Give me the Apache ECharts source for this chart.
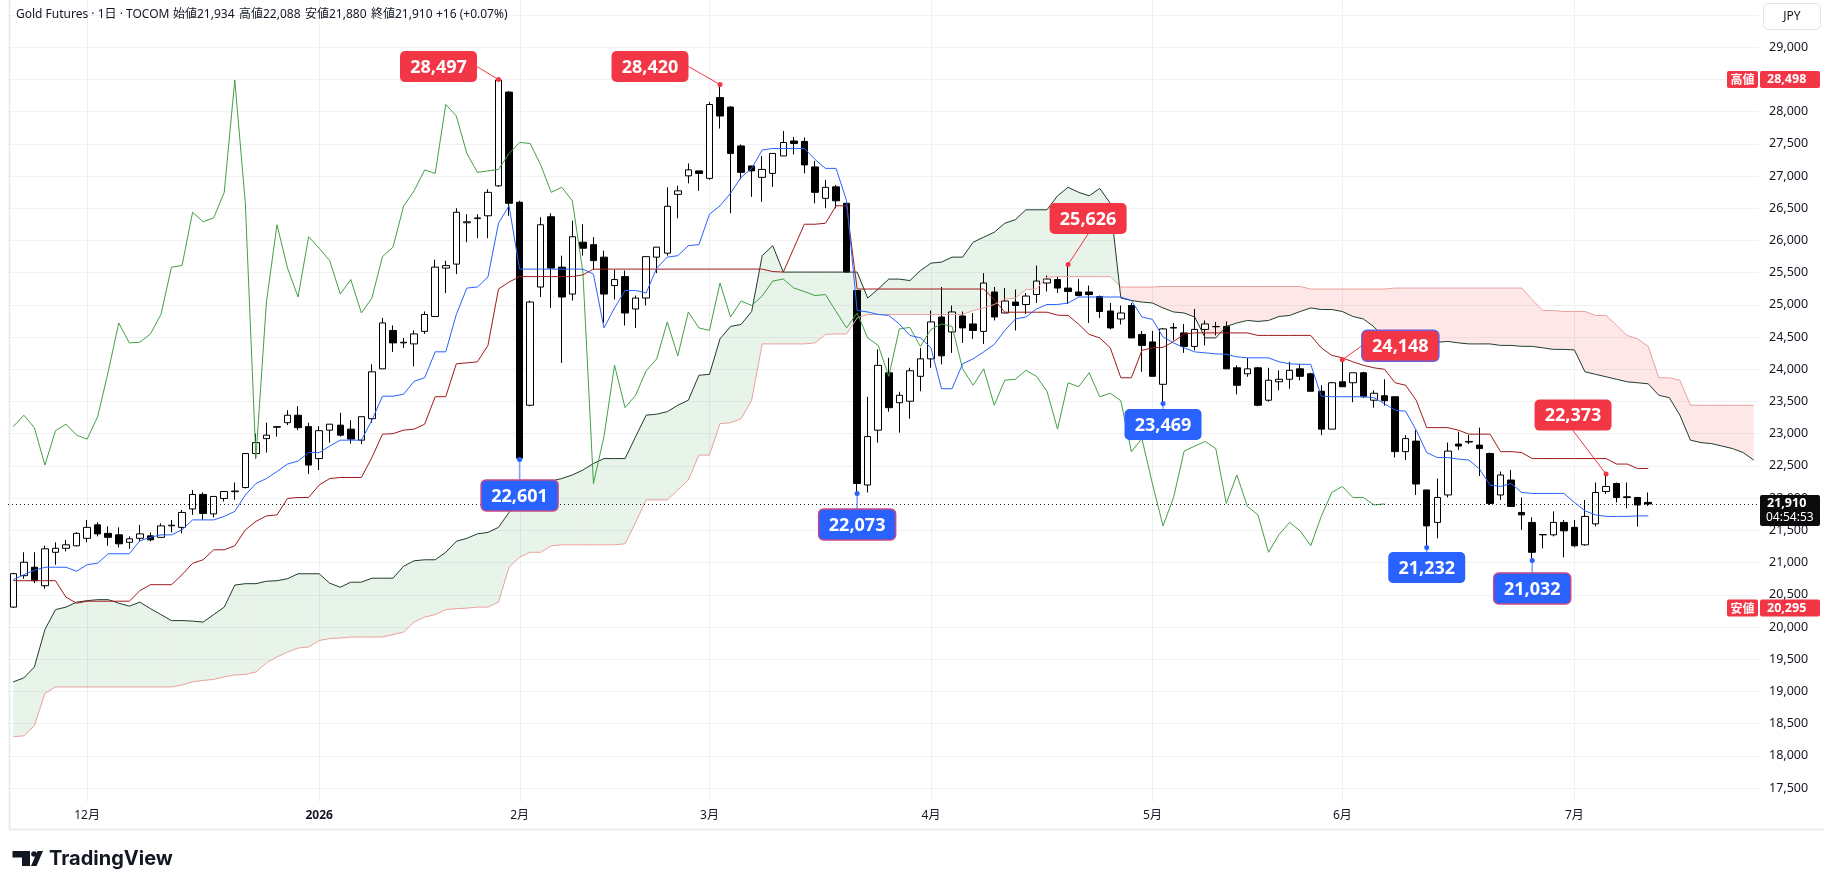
<!DOCTYPE html>
<html><head><meta charset="utf-8">
<script src="https://cdn.jsdelivr.net/npm/echarts@6/dist/echarts.min.js"></script>
<style>html,body{margin:0;padding:0;background:#fff;}#c{width:1824px;height:890px;}</style>
</head><body><div id="c"></div>
<script>
// ---------- DATA ----------
const dates = ['2025-11-19','2025-11-20','2025-11-21','2025-11-25','2025-11-26','2025-11-27','2025-11-28',
'2025-12-01','2025-12-02','2025-12-03','2025-12-04','2025-12-05','2025-12-08','2025-12-09','2025-12-10','2025-12-11','2025-12-12','2025-12-15','2025-12-16','2025-12-17','2025-12-18','2025-12-19','2025-12-22','2025-12-23','2025-12-24','2025-12-25','2025-12-26','2025-12-29','2025-12-30',
'2026-01-05','2026-01-06','2026-01-07','2026-01-08','2026-01-09','2026-01-13','2026-01-14','2026-01-15','2026-01-16','2026-01-19','2026-01-20','2026-01-21','2026-01-22','2026-01-23','2026-01-26','2026-01-27','2026-01-28','2026-01-29','2026-01-30',
'2026-02-02','2026-02-03','2026-02-04','2026-02-05','2026-02-06','2026-02-09','2026-02-10','2026-02-12','2026-02-13','2026-02-16','2026-02-17','2026-02-18','2026-02-19','2026-02-20','2026-02-24','2026-02-25','2026-02-26','2026-02-27',
'2026-03-02','2026-03-03','2026-03-04','2026-03-05','2026-03-06','2026-03-09','2026-03-10','2026-03-11','2026-03-12','2026-03-13','2026-03-16','2026-03-17','2026-03-18','2026-03-19','2026-03-23','2026-03-24','2026-03-25','2026-03-26','2026-03-27','2026-03-30','2026-03-31',
'2026-04-01','2026-04-02','2026-04-03','2026-04-06','2026-04-07','2026-04-08','2026-04-09','2026-04-10','2026-04-13','2026-04-14','2026-04-15','2026-04-16','2026-04-17','2026-04-20','2026-04-21','2026-04-22','2026-04-23','2026-04-24','2026-04-27','2026-04-28','2026-04-30',
'2026-05-01','2026-05-07','2026-05-08','2026-05-11','2026-05-12','2026-05-13','2026-05-14','2026-05-15','2026-05-18','2026-05-19','2026-05-20','2026-05-21','2026-05-22','2026-05-25','2026-05-26','2026-05-27','2026-05-28','2026-05-29',
'2026-06-01','2026-06-02','2026-06-03','2026-06-04','2026-06-05','2026-06-08','2026-06-09','2026-06-10','2026-06-11','2026-06-12','2026-06-15','2026-06-16','2026-06-17','2026-06-18','2026-06-19','2026-06-22','2026-06-23','2026-06-24','2026-06-25','2026-06-26','2026-06-29','2026-06-30',
'2026-07-01','2026-07-02','2026-07-03','2026-07-06','2026-07-07','2026-07-08','2026-07-09','2026-07-10',
'2026-07-13','2026-07-14','2026-07-15','2026-07-16','2026-07-17','2026-07-21','2026-07-22','2026-07-23','2026-07-24','2026-07-27'];

const opens = [20308,20796,20927,20640,21159,21221,21260,21376,21585,21453,
21430,21314,21376,21414,21391,21570,21546,21832,22057,21755,
21995,22100,22165,22692,22924,23100,23171,23287,23110,22614,
23055,23133,23071,22900,23233,24007,24603,24410,24394,24588,
24820,25571,25633,26274,26340,26383,26848,28303,26593,23442,
25277,26368,25586,25168,25973,25935,25741,25300,25439,24936,
25106,25741,25803,26716,27003,27080,26964,28218,28071,27467,
27157,26980,27041,27312,27544,27537,27142,26654,26832,26577,
25222,22204,23055,23945,23481,23504,23891,24162,24812,24580,
24828,24704,24588,25200,24874,25044,25006,25161,25339,25393,
25261,25200,25200,25130,24905,24781,24990,24541,24425,23767,
24640,24565,24355,24619,24660,24665,24023,23930,24023,23520,
23806,23845,24007,23930,23659,23071,23806,23791,23946,23520,
23589,23574,22722,22885,22127,21623,22049,22839,22870,22823,
22692,22049,22281,21778,21623,21430,21430,21623,21546,21275,
21600,22103,22227,22020,22010,21934];
const highs = [20840,21160,21160,21260,21314,21352,21470,21662,21623,21561,
21546,21406,21585,21468,21608,21662,21817,22126,22088,22026,
22103,22243,22700,23001,23171,23110,23365,23427,23171,23117,
23148,23326,23210,23264,24077,24797,24681,24487,24603,24898,
25702,25687,26500,26407,26407,26794,28497,28318,26616,25068,
26360,26422,25764,26306,26252,26051,25842,25548,25532,25145,
25749,25896,26825,26848,27196,27080,28148,28420,28086,27490,
27157,27312,27351,27699,27606,27599,27235,26941,26863,26580,
25230,23574,24309,24178,23651,24023,24332,24913,25277,24990,
24897,24874,25493,25277,25261,25238,25184,25610,25455,25432,
25626,25400,25300,25145,25029,24990,25029,24595,24595,24642,
24720,24704,24936,24758,24735,24743,24061,24178,24038,24023,
23984,24116,24085,23946,23752,23806,24148,23946,23961,23674,
23845,23574,22978,23055,22127,22304,22862,23032,22978,23094,
22707,22413,22436,22010,21701,21440,21794,21662,21662,21971,
22243,22373,22243,22243,22020,22088];
const lows = [20295,20749,20679,20594,20965,21174,21250,21314,21406,21260,
21236,21213,21329,21329,21391,21468,21453,21740,21662,21701,
21948,21972,22150,22614,22707,22955,23133,23055,22374,22436,
22862,22955,22846,22839,23171,24007,24270,24332,24046,24549,
24820,25184,25478,25973,26035,26035,26832,26383,22601,23426,
25122,24952,24100,25068,25764,25548,24720,25083,24681,24642,
24990,25493,25764,26345,26887,26770,26941,27738,26422,26949,
26678,26600,26832,27312,27335,27041,26577,26500,26500,25500,
22073,22088,22862,23342,23017,23233,23659,24023,24077,24255,
24410,24472,24394,24758,24874,24603,24859,25029,25207,25184,
25013,25130,24720,24797,24619,24696,24487,23961,23891,23469,
24448,24255,24294,24371,24526,24007,23612,23884,23426,23497,
23674,23698,23829,23659,22978,23071,23729,23489,23559,23404,
23435,22630,22591,22049,21232,21376,22010,22746,22839,22343,
21894,21972,21871,21507,21032,21220,21406,21081,21236,21260,
21562,22065,21933,21840,21560,21880];
const closes = [20827,21005,20718,21213,21221,21275,21453,21546,21445,21391,
21291,21368,21445,21352,21569,21580,21778,22057,21763,22026,
22103,22110,22692,22862,22978,23110,23287,23094,22513,23047,
23148,22978,22916,23264,23961,24720,24410,24420,24549,24851,
25586,25610,26438,26290,26350,26747,28490,26577,22620,25044,
26244,25571,25122,26058,25880,25687,25168,25393,24874,25106,
25749,25896,26531,26770,27096,27040,28110,27932,27351,27057,
27080,27103,27351,27521,27506,27173,26747,26825,26616,25509,
22227,22955,24061,23404,23597,23977,24162,24735,24209,24890,
24642,24603,25339,24812,25060,24990,25137,25370,25401,25261,
25207,25145,25160,24897,24642,24874,24487,24371,23891,24627,
24650,24355,24619,24704,24665,24007,23752,24007,23442,23830,
23845,23984,23891,23659,23071,23791,23729,23946,23574,23628,
23512,22722,22924,22219,21569,22010,22730,22808,22880,22769,
21918,22359,21871,21740,21159,21435,21623,21492,21260,21716,
22088,22181,22010,22010,21894,21910];

// Ichimoku lines
const tenkan = [20733,20811,20880,20927,20927,20927,20865,20966,20989,21136,21136,21136,21337,21391,21430,21430,21508,21662,21662,21662,21716,21794,
22049,22227,22304,22413,22529,22575,22707,22707,22808,22900,22900,22900,23210,23582,23582,23613,23814,23868,24271,24271,24851,25261,
25277,25432,26268,26538,25555,25555,25555,25555,25555,25555,25555,25478,24642,24952,25223,25223,25184,25571,25741,25764,25919,25935,
26407,26538,26732,26980,27119,27405,27428,27428,27428,27428,27258,27119,27119,26616,24913,24890,24851,24836,24704,24526,24487,24333,
23698,23698,24085,24162,24271,24387,24603,24781,24812,24936,25006,25006,25029,25122,25122,25122,25122,25122,25068,24812,24774,
24503,24410,24333,24271,24255,24240,24232,24193,24178,24178,24178,24116,24085,24077,24077,23582,23574,23574,23574,23574,23559,23466,
23365,23349,23055,22707,22630,22630,22606,22591,22452,22204,22181,22227,22088,22073,22073,22073,22073,21933,21802,21740,21716,21716,21716,21724,21724];
const kijun = [20718,20718,20718,20718,20718,20462,20369,20400,20400,20400,20400,20400,20563,20656,20656,20656,20811,20989,21043,21198,21198,21260,
21507,21639,21724,21740,21995,22010,22010,22204,22304,22320,22320,22320,22630,22993,23001,23055,23071,23148,23574,23574,24085,24100,
24116,24371,25246,25354,25439,25439,25439,25439,25439,25439,25466,25555,25555,25555,25555,25555,25555,25555,25555,25555,25555,25555,
25555,25555,25555,25555,25555,25555,25517,25509,25880,26252,26252,26267,26538,26538,25246,25246,25246,25246,25246,25246,25246,25246,
25246,25246,25246,25246,25246,25080,24886,24886,24886,24886,24886,24840,24836,24700,24541,24487,24333,23868,23868,24294,24333,
24340,24430,24548,24565,24565,24565,24565,24565,24565,24526,24526,24526,24526,24526,24526,24333,24216,24178,24116,24062,24023,24000,
23791,23752,23520,23094,23094,23094,23055,22993,22993,22993,22722,22722,22707,22614,22614,22614,22614,22614,22614,22614,22614,22529,22529,22460,22460];
const spanA = [19147,19209,19379,19959,20269,20308,20385,20408,20424,20424,20369,20323,20385,20285,20192,20099,20099,20091,20076,20192,20308,20650,
20672,20672,20710,20718,20749,20826,20826,20826,20679,20617,20695,20695,20757,20757,20757,20942,21027,21043,21043,21159,21329,21376,
21445,21468,21546,21778,21948,22088,22181,22266,22304,22359,22436,22537,22614,22614,22614,22955,23288,23303,23342,23442,23520,23907,
23922,24472,24665,24696,24897,25764,25919,25509,25509,25509,25509,25509,25509,25509,25509,25106,25246,25400,25400,25377,25532,25648,
25664,25741,25741,25973,26051,26128,26267,26322,26476,26476,26476,26693,26825,26747,26693,26809,26577,25106,25068,25044,25029,
24952,24890,24874,24812,24487,24487,24665,24719,24758,24743,24758,24820,24836,24897,24952,24928,24928,24897,24820,24781,24658,24487,
24480,24530,24549,24440,24420,24433,24410,24394,24394,24394,24371,24371,24356,24356,24333,24309,24309,24300,23961,23922,23884,23845,23806,23791,23775,
23597,23559,23288,22900,22862,22846,22808,22769,22707,22591];
const spanB = [18295,18311,18466,18969,19069,19069,19069,19069,19069,19069,19069,19069,19069,19069,19069,19069,19100,19147,19170,19186,19224,19255,
19263,19301,19441,19534,19611,19673,19689,19789,19820,19828,19844,19844,19844,19844,19882,19921,20076,20153,20192,20269,20285,20292,
20308,20308,20385,20927,21082,21159,21159,21260,21275,21275,21275,21275,21275,21275,21291,21623,21972,21972,21972,22127,22281,22668,
22668,23156,23171,23233,23520,24394,24394,24394,24394,24394,24410,24541,24549,24549,24797,24851,24851,24851,24851,24851,24851,24851,
24851,24851,24851,24913,24952,25006,25091,25106,25238,25246,25432,25439,25439,25439,25439,25439,25439,25277,25277,25277,25277,
25285,25285,25285,25285,25285,25285,25285,25285,25285,25285,25285,25285,25285,25285,25246,25246,25246,25246,25246,25246,25246,25246,
25261,25261,25261,25261,25261,25261,25261,25261,25261,25261,25261,25261,25261,25080,24913,24913,24897,24897,24897,24836,24836,24681,24526,24472,24356,
23868,23868,23830,23442,23442,23442,23442,23442,23442,23442];
const chikouShift = 25;

const monthTickIdx = [7,29,48,66,87,108,126,148];
const monthTickLabels = ['12月','2026','2月','3月','4月','5月','6月','7月'];

const highIdx = [46,67,100,126,151];
const highVals = [28497,28420,25626,24148,22373];
const lowIdx = [48,80,109,134,144];
const lowVals = [22601,22073,23469,21232,21032];

const lastPrice = 21910;
const rangeHigh = 28498;
const rangeLow = 20295;
const countdown = '04:54:53';
const headerParts = ['Gold Futures · 1日 · TOCOM','始値21,934','高値22,088','安値21,880','終値21,910','+16 (+0.07%)'];

// ---------- STYLE / LAYOUT ----------
const FONT = "'Noto Sans','Noto Sans CJK JP',sans-serif";
const RED = '#F23645', BLUE = '#2962FF', TXT = '#131722';
const headerX = [16,173,239,305,371,436];
const highLayout = [{dx:-60,dy:-13,from:'right'},{dx:-70,dy:-18,from:'right'},{dx:20,dy:-46,from:'bottom'},{dx:58,dy:-14,from:'left'},{dx:-33,dy:-59,from:'bottom'}];
const lowLayout = [{dy:36,border:'#c44a86'},{dy:31,border:'#c44a86'},{dy:21,border:null},{dy:20,border:null},{dy:28,border:'#c44a86'}];
const BOXW = 77, BOXH = 31;

const fmt = v => v.toLocaleString('en-US');
const candleData = opens.map((o,i)=>[o, closes[i], lows[i], highs[i]]);
const chikou = closes.slice(chikouShift);
const cloudData = [];
for (let i=0;i<spanA.length-1;i++) cloudData.push([i, spanA[i], spanB[i]]);

const chart = echarts.init(document.getElementById('c'), null, {renderer:'canvas'});
const option = {
  animation:false,
  backgroundColor:'#ffffff',
  grid:{left:8,right:65,top:15,bottom:102,containLabel:false},
  xAxis:{type:'category',data:dates,boundaryGap:true,
    axisLine:{show:false},axisTick:{show:false},splitLine:{show:false},
    axisLabel:{interval:(idx)=>monthTickIdx.indexOf(idx)>=0,
      formatter:(v,idx)=>{const k=monthTickIdx.indexOf(idx); if(k<0) return ''; return monthTickLabels[k]==='2026' ? '{b|2026}' : monthTickLabels[k];},
      margin:22,color:TXT,fontSize:12,fontFamily:FONT,
      rich:{b:{fontWeight:'bold',fontSize:12,color:TXT,fontFamily:FONT}}}},
  yAxis:{type:'value',position:'right',min:17500,max:29500,interval:500,scale:true,
    axisLine:{show:false},axisTick:{show:false},
    splitLine:{show:true,lineStyle:{color:'#f0f1f4',width:1}},
    axisLabel:{margin:10,color:TXT,fontSize:12.5,fontFamily:FONT,formatter:v=> v>=29500?'':fmt(v)}},
  series:[
    {type:'custom',name:'cloud',clip:true,z:1,silent:true,
      encode:{x:0,y:[1,2]},data:cloudData,
      renderItem:(params,api)=>{
        const i=api.value(0);
        const a0=spanA[i],b0=spanB[i],a1=spanA[i+1],b1=spanB[i+1];
        const pa0=api.coord([i,a0]),pb0=api.coord([i,b0]),pa1=api.coord([i+1,a1]),pb1=api.coord([i+1,b1]);
        const G='rgba(67,160,71,0.12)',R='rgba(244,67,54,0.12)';
        const d0=a0-b0,d1=a1-b1;const ch=[];
        if(d0*d1>=0){
          ch.push({type:'polygon',shape:{points:[pa0,pa1,pb1,pb0]},style:{fill:(d0+d1)>=0?G:R}});
        } else {
          const t=d0/(d0-d1);
          const pm=[pa0[0]+(pa1[0]-pa0[0])*t, pa0[1]+(pa1[1]-pa0[1])*t];
          ch.push({type:'polygon',shape:{points:[pa0,pm,pb0]},style:{fill:d0>0?G:R}});
          ch.push({type:'polygon',shape:{points:[pm,pa1,pb1]},style:{fill:d1>0?G:R}});
        }
        return {type:'group',children:ch};
      }},
    {type:'candlestick',name:'Gold',data:candleData,barWidth:7,z:3,
      itemStyle:{color:'#ffffff',color0:'#000000',borderColor:'#000000',borderColor0:'#000000',borderWidth:1},
      markLine:{silent:true,symbol:['none','none'],label:{show:false},
        lineStyle:{color:TXT,type:[1,3],width:1},data:[{yAxis:lastPrice}]}},
    {type:'line',name:'spanB',data:spanB,showSymbol:false,z:4,lineStyle:{color:'#e9a29d',width:1}},
    {type:'line',name:'spanA',data:spanA,showSymbol:false,z:4,lineStyle:{color:'#1f3d2c',width:1}},
    {type:'line',name:'chikou',data:chikou,showSymbol:false,z:4,lineStyle:{color:'#43A047',width:1}},
    {type:'line',name:'kijun',data:kijun,showSymbol:false,z:5,lineStyle:{color:'#9e1b1b',width:1}},
    {type:'line',name:'tenkan',data:tenkan,showSymbol:false,z:5,lineStyle:{color:'#2962FF',width:1}}
  ]
};
chart.setOption(option);

const toPx=(i,v)=>chart.convertToPixel({xAxisIndex:0,yAxisIndex:0},[i,v]);
const g=[];
// month grid lines over full pane height
monthTickIdx.forEach(i=>{const x=Math.round(toPx(i,20000)[0])+0.5;
  g.push({type:'line',z:-1,silent:true,shape:{x1:x,y1:0,x2:x,y2:802},style:{stroke:'#eef0f3',lineWidth:1}});});
// frame
g.push({type:'line',z:0,silent:true,shape:{x1:9.5,y1:0,x2:9.5,y2:830},style:{stroke:'#e6e8ec',lineWidth:1.5}});
g.push({type:'line',z:0,silent:true,shape:{x1:9,y1:829.5,x2:1824,y2:829.5},style:{stroke:'#e6e8ec',lineWidth:1.5}});

function box(cx,cy,txt,fill,border){
  g.push({type:'rect',z:100,shape:{x:cx-BOXW/2,y:cy-BOXH/2,width:BOXW,height:BOXH,r:5},
    style:{fill:fill,stroke:border||fill,lineWidth:border?1.5:0}});
  g.push({type:'text',z:101,style:{text:txt,x:cx,y:cy+1,align:'center',verticalAlign:'middle',fill:'#fff',
    font:"bold 18px 'Noto Sans',sans-serif"}});
}
highIdx.forEach((idx,k)=>{
  const p=toPx(idx,highVals[k]);const L=highLayout[k];
  const cx=p[0]+L.dx, cy=p[1]+L.dy;
  let s;
  if(L.from==='right') s=[cx+BOXW/2,cy]; else if(L.from==='left') s=[cx-BOXW/2,cy]; else s=[cx,cy+BOXH/2];
  g.push({type:'line',z:99,shape:{x1:s[0],y1:s[1],x2:p[0],y2:p[1]},style:{stroke:RED,lineWidth:1}});
  g.push({type:'circle',z:99,shape:{cx:p[0],cy:p[1],r:2.5},style:{fill:RED}});
  box(cx,cy,fmt(highVals[k]),RED,k===3?'#6a5fd8':null);
});
lowIdx.forEach((idx,k)=>{
  const p=toPx(idx,lowVals[k]);const L=lowLayout[k];
  const cx=p[0], cy=p[1]+L.dy;
  g.push({type:'line',z:99,shape:{x1:p[0],y1:p[1],x2:cx,y2:cy-BOXH/2},style:{stroke:BLUE,lineWidth:1.5,opacity:0.6}});
  g.push({type:'circle',z:99,shape:{cx:p[0],cy:p[1],r:2.5},style:{fill:BLUE}});
  box(cx,cy,fmt(lowVals[k]),BLUE,L.border);
});
// right-scale tags
function tag(val,word){
  const y=toPx(0,val)[1];
  g.push({type:'rect',z:100,shape:{x:1727,y:y-8.5,width:31,height:17,r:2},style:{fill:RED}});
  g.push({type:'text',z:101,style:{text:word,x:1742.5,y:y,align:'center',verticalAlign:'middle',fill:'#fff',font:"bold 12px 'Noto Sans CJK JP',sans-serif"}});
  g.push({type:'rect',z:100,shape:{x:1760,y:y-8.5,width:60,height:17,r:2},style:{fill:RED}});
  g.push({type:'text',z:101,style:{text:fmt(val),x:1767,y:y,align:'left',verticalAlign:'middle',fill:'#fff',font:"bold 12.5px 'Noto Sans',sans-serif"}});
}
tag(rangeHigh,'高値'); tag(rangeLow,'安値');
{
  const y=toPx(0,lastPrice)[1];
  g.push({type:'rect',z:100,shape:{x:1760,y:y-9,width:60,height:31,r:2},style:{fill:'#0b0b0e'}});
  g.push({type:'text',z:101,style:{text:fmt(lastPrice),x:1767,y:y,align:'left',verticalAlign:'middle',fill:'#fff',font:"bold 12.5px 'Noto Sans',sans-serif"}});
  g.push({type:'text',z:101,style:{text:countdown,x:1766,y:y+14,align:'left',verticalAlign:'middle',fill:'#fff',font:"12px 'Noto Sans',sans-serif"}});
}
// JPY box
g.push({type:'rect',z:100,shape:{x:1763.5,y:3.5,width:57,height:26,r:5},style:{fill:'#fff',stroke:'#e0e3eb',lineWidth:1}});
g.push({type:'text',z:101,style:{text:'JPY',x:1792,y:17,align:'center',verticalAlign:'middle',fill:TXT,font:"12px 'Noto Sans',sans-serif"}});
// header
headerParts.forEach((t,k)=>{
  g.push({type:'text',z:101,style:{text:t,x:headerX[k],y:15,align:'left',verticalAlign:'middle',fill:TXT,font:"12px 'Noto Sans','Noto Sans CJK JP',sans-serif"}});
});
// TradingView logo
g.push({type:'polygon',z:101,shape:{points:[[12.5,851],[30,851],[30,866],[22,866],[22,857.5],[12.5,857.5]]},style:{fill:TXT}});
g.push({type:'circle',z:101,shape:{cx:34,cy:854,r:2.8},style:{fill:TXT}});
g.push({type:'polygon',z:101,shape:{points:[[37.5,851],[43,851],[36.5,866],[31,866]]},style:{fill:TXT}});
g.push({type:'text',z:101,style:{text:'TradingView',x:49,y:859,align:'left',verticalAlign:'middle',fill:TXT,font:"bold 20px Inter,'Noto Sans',sans-serif"}});

chart.setOption({graphic:{elements:g}});
</script>
</body></html>
